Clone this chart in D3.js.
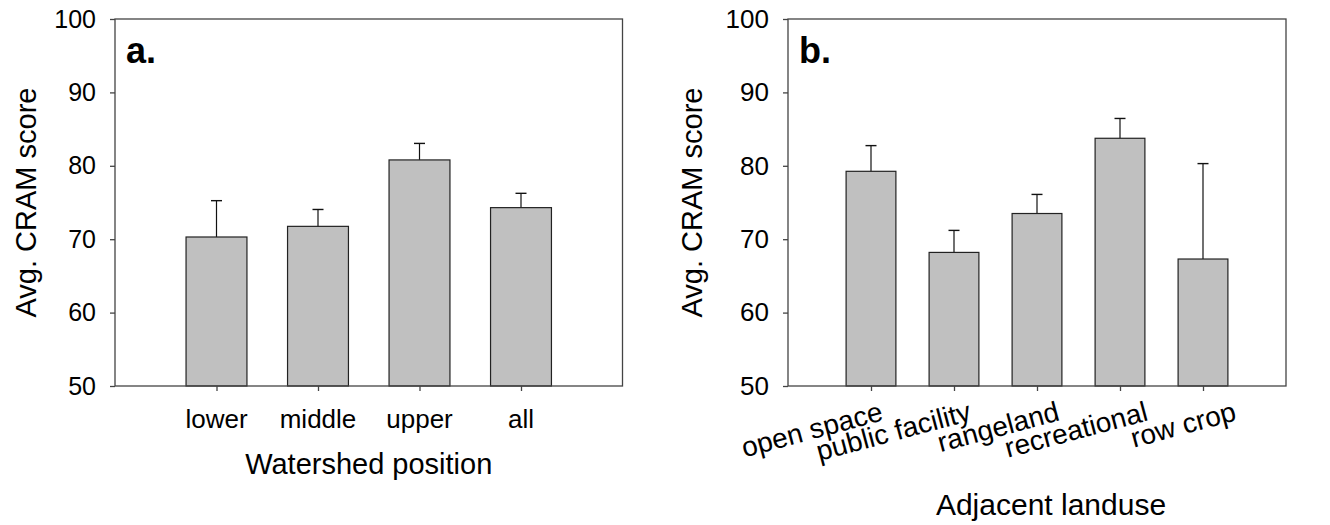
<!DOCTYPE html>
<html>
<head>
<meta charset="utf-8">
<script src="https://cdn.jsdelivr.net/npm/d3@7"></script>
<style>
  body { margin: 0; background: #fff; }
  svg text { font-family: "Liberation Sans", Arial, sans-serif; fill: #000; }
</style>
</head>
<body>
<div id="chart"></div>
<script>
// panel a: watershed position
const positions = ["lower", "middle", "upper", "all"];
const posMeans = [70.3, 71.75, 80.8, 74.3];
const posErr = [4.95, 2.3, 2.25, 1.95];

// panel b: adjacent landuse
const landuses = ["open space", "public facility", "rangeland", "recreational", "row crop"];
const landMeans = [79.25, 68.2, 73.5, 83.75, 67.3];
const landErr = [3.5, 3.0, 2.6, 2.7, 13.0];

const yTicks = [50, 60, 70, 80, 90, 100];

const svg = d3.select("#chart").append("svg").attr("width", 1330).attr("height", 525);

function drawPanel(opt) {
  let g = svg.append("g");
  let n = opt.cats.length;
  let x = d3.scaleLinear().domain([0, n + 1]).range([opt.left, opt.right]),
      y = d3.scaleLinear().domain([50, 100]).range([386, 19]),
      step = x(1) - x(0),
      bw = step * 0.6;

  let data = opt.cats.map((c, i) => ({ cat: c, i: i + 1, mean: opt.means[i], err: opt.errs[i] }));

  // error bars (upper only)
  g.selectAll(".err").data(data).enter().append("line")
    .attr("x1", d => x(d.i)).attr("x2", d => x(d.i))
    .attr("y1", d => y(d.mean)).attr("y2", d => y(d.mean + d.err))
    .attr("stroke", "#111").attr("stroke-width", 1.2);
  g.selectAll(".cap").data(data).enter().append("line")
    .attr("x1", d => x(d.i) - 5.5).attr("x2", d => x(d.i) + 5.5)
    .attr("y1", d => y(d.mean + d.err)).attr("y2", d => y(d.mean + d.err))
    .attr("stroke", "#111").attr("stroke-width", 1.4);

  g.selectAll(".bar").data(data).enter().append("rect")
    .attr("x", d => x(d.i) - bw / 2).attr("width", bw)
    .attr("y", d => y(d.mean)).attr("height", d => y(50) - y(d.mean))
    .attr("fill", "#c0c0c0").attr("stroke", "#222").attr("stroke-width", 1.2);

  // frame
  g.append("rect").attr("x", opt.left).attr("y", y(100))
    .attr("width", opt.right - opt.left).attr("height", y(50) - y(100))
    .attr("fill", "none").attr("stroke", "#444").attr("stroke-width", 1.3);

  // y axis
  let ya = g.append("g").attr("transform", `translate(${opt.left},0)`)
    .call(d3.axisLeft(y).tickValues(yTicks).tickSize(5).tickPadding(opt.yPad));
  ya.select(".domain").remove();
  ya.selectAll("line").attr("stroke", "#444").attr("stroke-width", 1.3);
  ya.selectAll("text").style("font-size", opt.yFont + "px").style("font-family", "Liberation Sans, Arial");

  // x axis ticks
  let xa = g.append("g").attr("transform", `translate(0,${y(50)})`)
    .call(d3.axisBottom(x).tickValues(data.map(d => d.i)).tickSize(5).tickFormat(""));
  xa.select(".domain").remove();
  xa.selectAll("line").attr("stroke", "#444").attr("stroke-width", 1.3);

  if (opt.rotate) {
    g.selectAll(".xlab").data(data).enter().append("text")
      .attr("transform", d => `translate(${x(d.i) + opt.labDx(d.i)},${y(50) + 34}) rotate(${opt.rotate})`)
      .attr("text-anchor", "end").style("font-size", opt.xFont + "px").text(d => d.cat);
  } else {
    g.selectAll(".xlab").data(data).enter().append("text")
      .attr("x", d => x(d.i)).attr("y", y(50) + 42)
      .attr("text-anchor", "middle").style("font-size", opt.xFont + "px").text(d => d.cat);
  }

  g.append("text").attr("x", (opt.left + opt.right) / 2 + opt.titleDx).attr("y", opt.titleY)
    .attr("text-anchor", "middle").style("font-size", opt.titleFont + "px").text(opt.title);

  g.append("text").attr("transform", `translate(${opt.yTitleX},${(y(50) + y(100)) / 2}) rotate(-90)`)
    .attr("text-anchor", "middle").style("font-size", "29px").text("Avg. CRAM score");

  g.append("text").attr("x", opt.left + 11).attr("y", 63)
    .style("font-size", "36px").style("font-weight", "bold").text(opt.label);
}

drawPanel({
  cats: positions, means: posMeans, errs: posErr,
  left: 115, right: 622.5, yPad: 14, yFont: 25, xFont: 26,
  title: "Watershed position", titleFont: 29, titleY: 474, titleDx: 0,
  yTitleX: 36, label: "a."
});

drawPanel({
  cats: landuses, means: landMeans, errs: landErr,
  left: 788, right: 1286, yPad: 14, yFont: 26, xFont: 28,
  rotate: -15, labDx: i => 8 + 5.3 * i,
  title: "Adjacent landuse", titleFont: 30, titleY: 515, titleDx: 14,
  yTitleX: 702, label: "b."
});
</script>
</body>
</html>
